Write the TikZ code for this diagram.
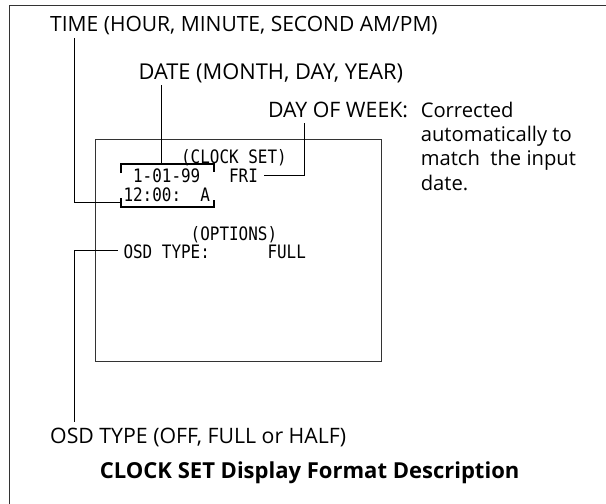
\documentclass[tikz,border=0pt]{standalone}
\usepackage{fontspec}
\setmainfont{Open Sans}
\newfontfamily\osdfont[FakeStretch=0.862]{DejaVu Sans Mono}
\newlength\calw
\newcommand\calibrate[3]{%
  \settowidth\calw{\fontsize{10pt}{12pt}\selectfont #2}%
  \pgfmathsetmacro#1{10*#3/\calw}%
  \global\let#1#1}
\AtBeginDocument{%
  \calibrate\sTime{TIME (HOUR, MINUTE, SECOND AM/PM)}{387.5}%
  \calibrate\sDate{DATE (MONTH, DAY, YEAR)}{264.5}%
  \calibrate\sDow{DAY OF WEEK:}{140}%
  \calibrate\sNote{automatically to}{151}%
  \calibrate\sOsd{OSD TYPE (OFF, FULL or HALF)}{296}%
  \calibrate\sCap{\bfseries CLOCK SET Display Format Description}{419.5}%
}
\begin{document}
\begin{tikzpicture}[x=1pt,y=-1pt]
\tikzset{
  lbl/.style={font=\fontsize{#1 pt}{#1 pt}\selectfont, anchor=base west, inner sep=0pt},
  captxt/.style={font=\fontsize{\sCap pt}{\sCap pt}\selectfont\bfseries, anchor=base west, inner sep=0pt},
  osd/.style={font=\osdfont\fontsize{18.5pt}{18.5pt}\selectfont, anchor=base west, inner sep=0pt},
  conn/.style={draw=black, line width=1.3pt},
  brk/.style={draw=black, line width=2.3pt},
  frame/.style={draw=black!80, line width=1pt}
}
\useasboundingbox (0,0) rectangle (606,504);
\fill[white] (0,0) rectangle (606,504);
% outer frame (right and bottom edges lie outside the picture)
\draw[frame] (9.5,504) -- (9.5,5.5) -- (606,5.5);
% screen
\draw[frame] (95.9,139.3) rectangle (381,361);

% labels
\node[lbl=\sTime] (timelbl) at (50,31.7) {TIME (HOUR, MINUTE, SECOND AM/PM)};
\node[lbl=\sDate] (datelbl) at (138.4,79) {DATE (MONTH, DAY, YEAR)};
\node[lbl=\sDow] (dowlbl) at (267.9,117.3) {DAY OF WEEK:};
\node[lbl=\sNote] (note1) at (420.6,117.3) {Corrected};
\node[lbl=\sNote] (note2) at (420.6,141.7) {automatically to};
\node[lbl=\sNote] (note3) at (420.6,165.7) {match~ the input};
\node[lbl=\sNote] (note4) at (420.6,190) {date.};
\node[lbl=\sOsd] (osdlbl) at (50,443.3) {OSD TYPE (OFF, FULL or HALF)};
\node[captxt] (caption) at (99.7,478.3) {CLOCK SET Display Format Description};

% screen text
\node[osd] (clockset) at (180.9,163.3) {(CLOCK SET)};
\node[osd] (dateval) at (132.9,182.7) {1-01-99~~~FRI};
\node[osd] (timeval) at (123.3,201.7) {12:00:~~A};
\node[osd] (options) at (190.5,240) {(OPTIONS)};
\node[osd] (osdval) at (123.3,258.3) {OSD TYPE:~~~~~~FULL};

% brackets
\draw[brk] (121,173) -- (121,164) -- (213.8,164) -- (213.8,172);
\draw[brk] (121,198) -- (121,206.7) -- (213.8,206.7) -- (213.8,199.5);

% connector end points
\coordinate (t0) at (74.6,38.3);
\coordinate (t1) at (121,202.5);
\coordinate (d0) at (161.6,85);
\coordinate (d1) at (161.6,164);
\coordinate (w0) at (304.2,123.3);
\coordinate (w1) at (264,175.7);
\coordinate (o0) at (117.9,250.7);
\coordinate (o1) at (74.6,421.7);

% connectors
\draw[conn] (t0) |- (t1);
\draw[conn] (d0) -- (d1);
\draw[conn] (w0) |- (w1);
\draw[conn] (o0) -| (o1);
\end{tikzpicture}
\end{document}
